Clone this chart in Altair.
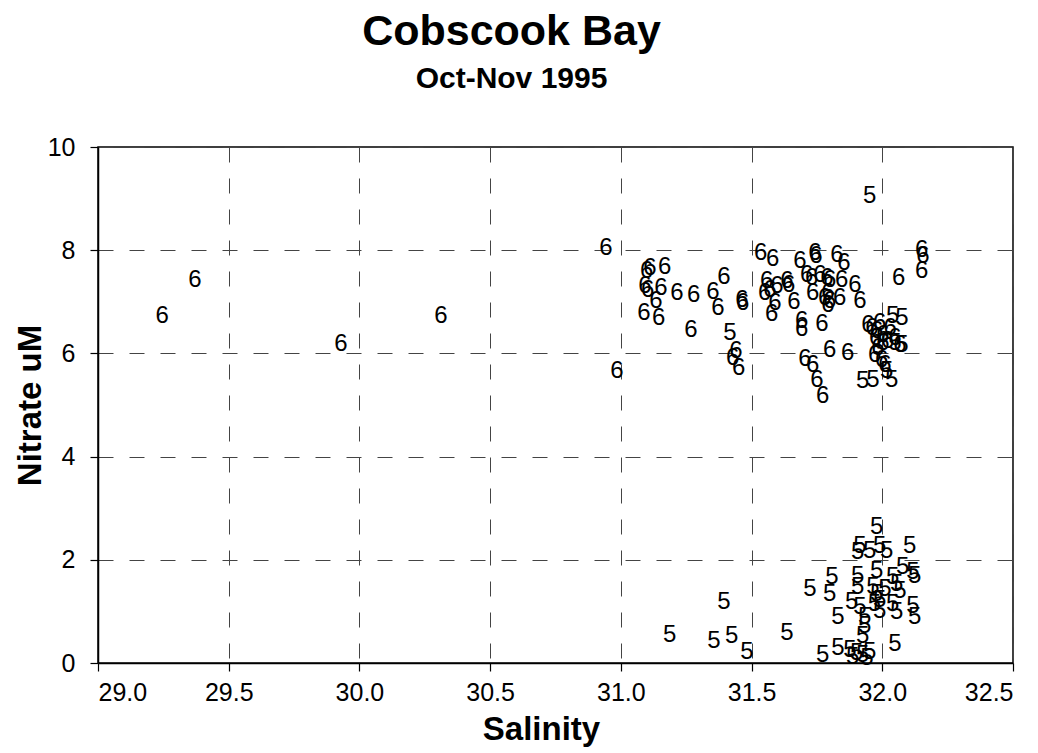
import altair as alt
import pandas as pd

# Series "6" (Salinity, Nitrate)
sal6 = [29.245, 29.371, 29.929, 30.312, 30.943, 30.985, 31.099, 31.111, 31.168, 31.092,
        31.103, 31.153, 31.134, 31.214, 31.279, 31.352, 31.394, 31.371, 31.088, 31.145,
        31.268, 31.440, 31.428, 31.451, 31.463, 31.466, 31.535, 31.581, 31.558, 31.550,
        31.570, 31.597, 31.589, 31.577, 31.635, 31.642, 31.662, 31.685, 31.742, 31.746,
        31.826, 31.853, 31.711, 31.730, 31.761, 31.788, 31.845, 31.734, 31.792, 31.799,
        31.837, 31.692, 31.692, 31.769, 31.799, 31.868, 31.704, 31.734, 31.750, 31.772,
        31.799, 31.895, 31.914, 31.780, 31.792, 32.063, 32.151, 32.155, 32.151, 31.945,
        31.990, 31.979, 32.002, 32.021, 32.067, 31.983, 32.002, 31.971, 31.998, 32.010,
        31.960, 32.030, 31.975, 32.048]
nit6 = [6.72, 7.42, 6.18, 6.72, 8.04, 5.65, 7.60, 7.66, 7.68, 7.31,
        7.23, 7.27, 7.01, 7.17, 7.13, 7.19, 7.48, 6.88, 6.78, 6.68,
        6.45, 6.04, 5.92, 5.71, 7.03, 6.97, 7.95, 7.83, 7.40, 7.17,
        7.23, 7.31, 6.97, 6.76, 7.40, 7.33, 6.99, 7.79, 7.95, 7.89,
        7.91, 7.75, 7.52, 7.46, 7.52, 7.46, 7.42, 7.17, 7.17, 7.01,
        7.07, 6.62, 6.47, 6.57, 6.06, 6.00, 5.90, 5.77, 5.48, 5.17,
        7.42, 7.33, 7.01, 7.07, 6.94, 7.46, 8.00, 7.89, 7.60, 6.55,
        6.59, 6.43, 6.35, 6.25, 6.16, 6.10, 6.20, 5.96, 5.87, 5.77,
        6.49, 6.49, 6.29, 6.29]

# Series "5" (Salinity, Nitrate)
sal5 = [32.040, 32.075, 32.075, 32.048, 31.925, 31.964, 32.036, 32.017, 31.417, 31.952,
        31.979, 31.914, 31.906, 31.952, 31.990, 32.017, 32.105, 31.807, 31.723, 31.799,
        31.906, 31.979, 32.040, 32.078, 32.117, 32.124, 31.906, 31.964, 31.979, 32.055,
        32.067, 31.883, 31.914, 31.990, 32.040, 32.055, 32.117, 32.124, 31.830, 31.933,
        31.933, 31.635, 31.925, 32.048, 31.772, 31.830, 31.876, 31.902, 31.925, 31.952,
        31.887, 31.941, 31.187, 31.394, 31.356, 31.424, 31.482, 31.990, 32.010, 31.970]
nit5 = [6.72, 6.68, 6.16, 6.20, 5.46, 5.48, 5.48, 5.65, 6.39, 9.06,
        2.64, 2.27, 2.15, 2.17, 2.27, 2.17, 2.27, 1.66, 1.43, 1.33,
        1.68, 1.78, 1.66, 1.86, 1.76, 1.68, 1.47, 1.47, 1.33, 1.53,
        1.39, 1.18, 1.08, 1.00, 1.14, 0.98, 1.10, 0.90, 0.89, 0.90,
        0.71, 0.59, 0.52, 0.36, 0.16, 0.30, 0.26, 0.20, 0.16, 0.22,
        0.11, 0.09, 0.55, 1.18, 0.42, 0.52, 0.22, 1.23, 1.43, 1.14]

x_ticks = [29.0, 29.5, 30.0, 30.5, 31.0, 31.5, 32.0, 32.5]
y_ticks = [0, 2, 4, 6, 8, 10]

df = pd.concat([
    pd.DataFrame({"Salinity": sal6, "Nitrate": nit6, "label": "6"}),
    pd.DataFrame({"Salinity": sal5, "Nitrate": nit5, "label": "5"}),
])

FONT = "Liberation Sans"

chart = alt.Chart(df).mark_text(
    font=FONT, fontSize=24, color="black", align="center", baseline="middle"
).encode(
    x=alt.X("Salinity:Q",
            scale=alt.Scale(domain=[29.0, 32.5], nice=False, zero=False),
            axis=alt.Axis(values=x_ticks, format=".1f", title="Salinity",
                          titleX=443, titleY=76, titleBaseline="alphabetic")),
    y=alt.Y("Nitrate:Q",
            scale=alt.Scale(domain=[0, 10], nice=False),
            axis=alt.Axis(values=y_ticks, title="Nitrate uM",
                          titleX=-68, titleBaseline="middle")),
    text="label:N",
).properties(
    width=915,
    height=516,
    title=alt.TitleParams(
        text="Cobscook Bay",
        subtitle="Oct-Nov 1995",
        font=FONT, fontSize=43, fontWeight="bold", color="black",
        subtitleFont=FONT, subtitleFontSize=30, subtitleFontWeight="bold",
        subtitleColor="black", subtitlePadding=10,
        anchor="middle", dx=-44, offset=41,
    ),
    autosize=alt.AutoSizeParams(type="none"),
    padding={"left": 90, "top": 139, "right": 17, "bottom": 90},
).configure_view(
    stroke="black", strokeWidth=1.5
).configure_axis(
    domainColor="black", domainWidth=1.5,
    tickColor="black", tickSize=8, tickWidth=1.2,
    labelFont=FONT, labelFontSize=25, labelColor="black",
    titleFont=FONT, titleFontSize=33, titleFontWeight="bold", titleColor="black",
    grid=True, gridColor="#444444", gridDash=[15, 16], gridWidth=1,
).configure_axisX(
    labelPadding=9,
).configure_axisY(
    labelPadding=15,
)

chart.save("out.html", embed_options={"renderer": "svg", "actions": False})
